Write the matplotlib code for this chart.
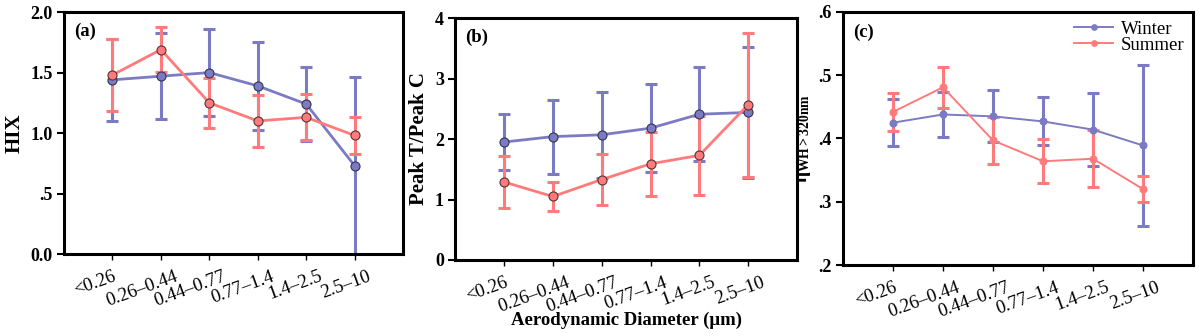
import matplotlib
matplotlib.use('Agg')
import matplotlib.pyplot as plt
import matplotlib.transforms as mtransforms
import numpy as np

plt.rcParams['font.family'] = ['Liberation Serif', 'DejaVu Serif']
plt.rcParams['mathtext.fontset'] = 'custom'
plt.rcParams['mathtext.rm'] = 'Liberation Serif:bold'
plt.rcParams['mathtext.it'] = 'Liberation Serif:bold'
plt.rcParams['mathtext.bf'] = 'Liberation Serif:bold'

# categorias de diametro aerodinamico
categorias = ['<0.26', '0.26–0.44', '0.44–0.77', '0.77–1.4', '1.4–2.5', '2.5–10']

# (a) HIX
hix_inverno = [1.44, 1.47, 1.50, 1.39, 1.24, 0.73]
hix_inverno_err = [0.34, 0.355, 0.36, 0.365, 0.305, 0.735]
hix_verao = [1.48, 1.69, 1.25, 1.10, 1.13, 0.98]
hix_verao_err = [0.295, 0.185, 0.205, 0.218, 0.19, 0.15]
hix_ticks = [0.0, 0.5, 1.0, 1.5, 2.0]
hix_ticklabels = ['0.0', '.5', '1.0', '1.5', '2.0']

# (b) Peak T / Peak C
tc_inverno = [1.95, 2.04, 2.07, 2.18, 2.41, 2.44]
tc_inverno_err = [0.47, 0.61, 0.71, 0.73, 0.78, 1.09]
tc_verao = [1.29, 1.05, 1.33, 1.59, 1.73, 2.57]
tc_verao_err = [0.43, 0.24, 0.42, 0.53, 0.65, 1.19]
tc_ticks = [0, 1, 2, 3, 4]
tc_ticklabels = ['0', '1', '2', '3', '4']

# (c) eta WH>320nm
eta_inverno = [0.425, 0.438, 0.435, 0.427, 0.414, 0.389]
eta_inverno_err = [0.037, 0.036, 0.041, 0.038, 0.058, 0.127]
eta_verao = [0.442, 0.481, 0.397, 0.364, 0.368, 0.320]
eta_verao_err = [0.030, 0.032, 0.037, 0.035, 0.045, 0.020]
eta_ticks = [0.2, 0.3, 0.4, 0.5, 0.6]
eta_ticklabels = ['.2', '.3', '.4', '.5', '.6']

COR_INV = '#7b7bc4'
COR_VER = '#ff7b7b'

fig = plt.figure(figsize=(12.01, 3.36), dpi=100)
ax_a = fig.add_axes([0.0533, 0.244, 0.2823, 0.720])
ax_b = fig.add_axes([0.3789, 0.2262, 0.2848, 0.720])
ax_c = fig.add_axes([0.7019, 0.2113, 0.2914, 0.753])


def desenhar(ax, inv, inv_err, ver, ver_err, ticks, ticklabels, ylim, ylabel, tag, fino=False):
    x = np.arange(len(categorias))
    lw = 1.4 if fino else 2.0
    ms = 5 if fino else 6.5
    mec_inv = COR_INV if fino else '#333355'
    mec_ver = COR_VER if fino else '#553333'
    handles = []
    for vals, errs, cor, mec, nome in [(inv, inv_err, COR_INV, mec_inv, 'Winter'),
                                       (ver, ver_err, COR_VER, mec_ver, 'Summer')]:
        ax.errorbar(x, vals, yerr=errs, fmt='none', ecolor=cor, elinewidth=2.2,
                    capsize=4, capthick=2.2, zorder=2)
        h, = ax.plot(x, vals, '-o', color=cor, lw=lw, ms=ms, mfc=cor, mec=mec,
                     mew=0.8, label=nome, zorder=3)
        handles.append(h)
    ax.set_xlim(-1, 6)
    ax.set_ylim(*ylim)
    ax.set_yticks(ticks)
    ax.set_yticklabels(ticklabels, fontsize=13, fontweight='bold')
    ax.set_xticks(x)
    ax.set_xticklabels(categorias, fontsize=13.5, rotation=20, ha='right',
                       va='top', rotation_mode='anchor')
    ax.tick_params(axis='y', direction='out', length=5, width=1.5, pad=3)
    ax.tick_params(axis='x', direction='out', length=4, width=1, pad=6)
    # rotulos deslocados para a direita (o primeiro fica no tick)
    for i, lab in enumerate(ax.get_xticklabels()):
        dx = 0.0 if i == 0 else 0.13
        lab.set_transform(lab.get_transform() +
                          mtransforms.ScaledTranslation(dx, 0, fig.dpi_scale_trans))
    for sp in ax.spines.values():
        sp.set_linewidth(2.2)
        sp.set_color('black')
    ax.set_ylabel(ylabel, fontsize=15, fontweight='bold', labelpad=4)
    ax.text(0.03, 0.92, tag, transform=ax.transAxes, fontsize=13.5,
            fontweight='bold', va='center', ha='left')
    return handles


desenhar(ax_a, hix_inverno, hix_inverno_err, hix_verao, hix_verao_err,
         hix_ticks, hix_ticklabels, (0, 2), 'HIX', '(a)')
desenhar(ax_b, tc_inverno, tc_inverno_err, tc_verao, tc_verao_err,
         tc_ticks, tc_ticklabels, (0, 4), 'Peak T/Peak C', '(b)')
hs = desenhar(ax_c, eta_inverno, eta_inverno_err, eta_verao, eta_verao_err,
              eta_ticks, eta_ticklabels, (0.2, 0.6), r'$\eta_{\mathrm{WH>320nm}}$',
              '(c)', fino=True)
ax_c.yaxis.label.set_fontsize(14)

ax_c.legend(handles=hs, loc='upper right', frameon=False, fontsize=13.5,
            handlelength=2.1, labelspacing=-0.05, borderaxespad=0.05,
            handletextpad=0.4, markerscale=0.8)

ax_b.set_xlabel('Aerodynamic Diameter (μm)', fontsize=13.5, fontweight='bold',
                labelpad=-3)

fig.savefig('out.png', dpi=100, facecolor='white')
